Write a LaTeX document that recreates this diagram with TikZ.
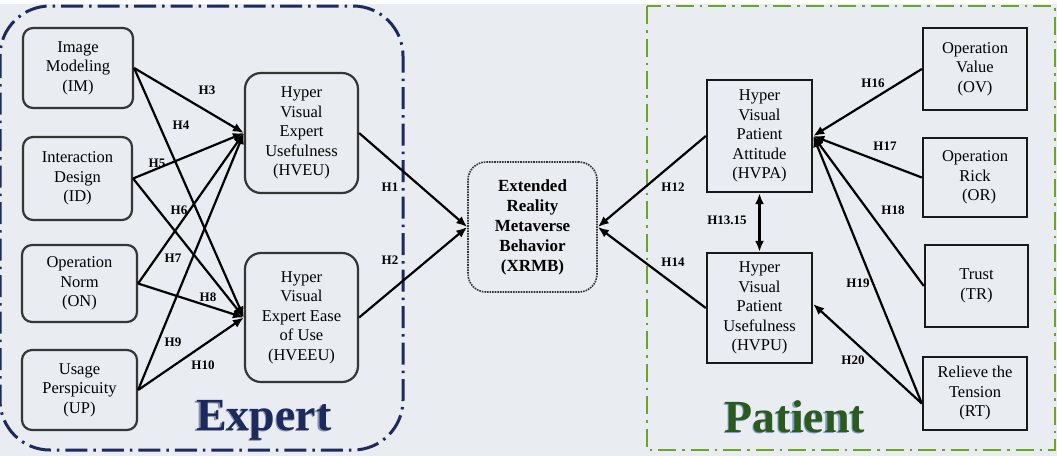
\documentclass[tikz,border=0pt]{standalone}
\usepackage{fontspec}
\setmainfont{Liberation Serif}
\usetikzlibrary{arrows.meta}
\definecolor{bg}{HTML}{E9ECF0}
\definecolor{boxgray}{HTML}{363636}
\definecolor{expertc}{HTML}{1C2A5E}
\definecolor{patientc}{HTML}{2A5A1C}
\definecolor{framegreen}{HTML}{6AA52A}
\definecolor{pshadow}{HTML}{7F9BD0}
\definecolor{eshadow}{HTML}{8C93A8}
\begin{document}
\begin{tikzpicture}[x=1pt,y=-1pt,
  txt/.style={align=center, font=\fontsize{16.5}{19.5}\selectfont, inner sep=0pt},
  lbox/.style={txt, draw=boxgray, line width=2.2pt, rounded corners=10pt},
  mbox/.style={txt, draw=boxgray, line width=2.2pt, rounded corners=16pt},
  rbox/.style={txt, draw=black!90, line width=2.4pt},
  cbox/.style={align=center, font=\bfseries\fontsize{17}{20}\selectfont, inner sep=0pt, draw=black!80, line width=1.6pt, densely dotted, rounded corners=18pt},
  arr/.style={line width=2.2pt, -{Latex[length=11pt,width=9pt]}},
  darr/.style={line width=2.2pt, {Latex[length=11pt,width=9pt]}-{Latex[length=11pt,width=9pt]}},
  lab/.style={font=\bfseries\fontsize{13}{13}\selectfont, inner sep=1pt},
  big/.style={font=\bfseries\fontsize{46}{46}\selectfont, inner sep=0pt, anchor=base}
]
\fill[white] (0,0) rectangle (1057,456);
\fill[bg] (0,4) rectangle (1057,456);
\useasboundingbox (0,0) rectangle (1057,456);

% frames
\draw[expertc, line width=3pt, dash pattern=on 22pt off 6pt on 2.5pt off 6pt, rounded corners=50pt] (0,6) rectangle (403,450);
\draw[framegreen, line width=2.5pt, dash pattern=on 18pt off 6pt on 2.5pt off 6pt] (647,6) rectangle (1055,450);

% expert side nodes
\node[lbox, minimum width=110pt, minimum height=80pt] (IM) at (78,68) {Image\\Modeling\\(IM)};
\node[lbox, minimum width=109pt, minimum height=83pt] (ID) at (77.5,178.5) {Interaction\\Design\\(ID)};
\node[lbox, minimum width=115pt, minimum height=77pt] (ON) at (79.5,283.5) {Operation\\Norm\\(ON)};
\node[lbox, minimum width=115pt, minimum height=80pt] (UP) at (79.5,390) {Usage\\Perspicuity\\(UP)};
\node[mbox, minimum width=113pt, minimum height=120pt] (HVEU) at (301.5,133) {Hyper\\Visual\\Expert\\Usefulness\\(HVEU)};
\node[mbox, minimum width=113pt, minimum height=129pt] (HVEEU) at (301.5,317.5) {Hyper\\Visual\\Expert Ease\\of Use\\(HVEEU)};

% center
\node[cbox, minimum width=129pt, minimum height=130pt] (XRMB) at (532.5,227) {Extended\\Reality\\Metaverse\\Behavior\\(XRMB)};

% patient side nodes
\node[rbox, minimum width=105pt, minimum height=112pt] (HVPA) at (759.5,136) {Hyper\\Visual\\Patient\\Attitude\\(HVPA)};
\node[rbox, minimum width=105pt, minimum height=110pt] (HVPU) at (759.5,308) {Hyper\\Visual\\Patient\\Usefulness\\(HVPU)};
\node[rbox, minimum width=104pt, minimum height=82pt] (OV) at (975,69) {Operation\\Value\\(OV)};
\node[rbox, minimum width=104pt, minimum height=79pt] (OR) at (975,177.5) {Operation\\Rick\\\ \ (OR)};
\node[rbox, minimum width=103pt, minimum height=82pt] (TR) at (976.5,286) {Trust\\(TR)};
\node[rbox, minimum width=104pt, minimum height=73pt] (RT) at (975,393.5) {Relieve the\\Tension\\(RT)};

% expert connectors
\foreach \s in {IM,ID,ON,UP}{
  \draw[arr] (\s.east) -- (HVEU.west);
  \draw[arr] (\s.east) -- (HVEEU.west);
}
\draw[arr] (HVEU.east) -- (XRMB.west);
\draw[arr] (HVEEU.east) -- (XRMB.west);

% patient connectors
\draw[arr] (HVPA.west) -- (XRMB.east);
\draw[arr] (HVPU.west) -- (XRMB.east);
\draw[darr] (HVPA.south) -- (HVPU.north);
\draw[arr] (OV.west) -- (HVPA.east);
\draw[arr] (OR.west) -- (HVPA.east);
\draw[arr] (TR.west) -- (HVPA.east);
\draw[arr] ([yshift=-10pt]RT.west) -- (HVPA.east);
\draw[arr] ([yshift=-10pt]RT.west) -- ([yshift=4pt]HVPU.east);

% labels
\node[lab] (h3) at (207,90) {H3};
\node[lab] (h4) at (181,125) {H4};
\node[lab] (h5) at (157,163) {H5};
\node[lab] (h6) at (179,210) {H6};
\node[lab] (h7) at (173,258) {H7};
\node[lab] (h8) at (208,297) {H8};
\node[lab] (h9) at (173,342) {H9};
\node[lab] (h10) at (203,365) {H10};
\node[lab] (h1) at (390,187) {H1};
\node[lab] (h2) at (390,260) {H2};
\node[lab] (h12) at (673,187) {H12};
\node[lab] (h14) at (673,262) {H14};
\node[lab] (h1315) at (727,220) {H13.15};
\node[lab] (h16) at (873,83) {H16};
\node[lab] (h17) at (885,146) {H17};
\node[lab] (h18) at (893,210) {H18};
\node[lab] (h19) at (858,283) {H19};
\node[lab] (h20) at (853,360) {H20};

% group titles
\node[big, text=eshadow] (expertsh) at (262.5,431.5) {Expert};
\node[big, text=expertc] (expert) at (264,430) {Expert};
\node[big, text=pshadow] (patientsh) at (793.5,433.5) {Patient};
\node[big, text=patientc] (patient) at (795,432) {Patient};
\end{tikzpicture}
\end{document}
